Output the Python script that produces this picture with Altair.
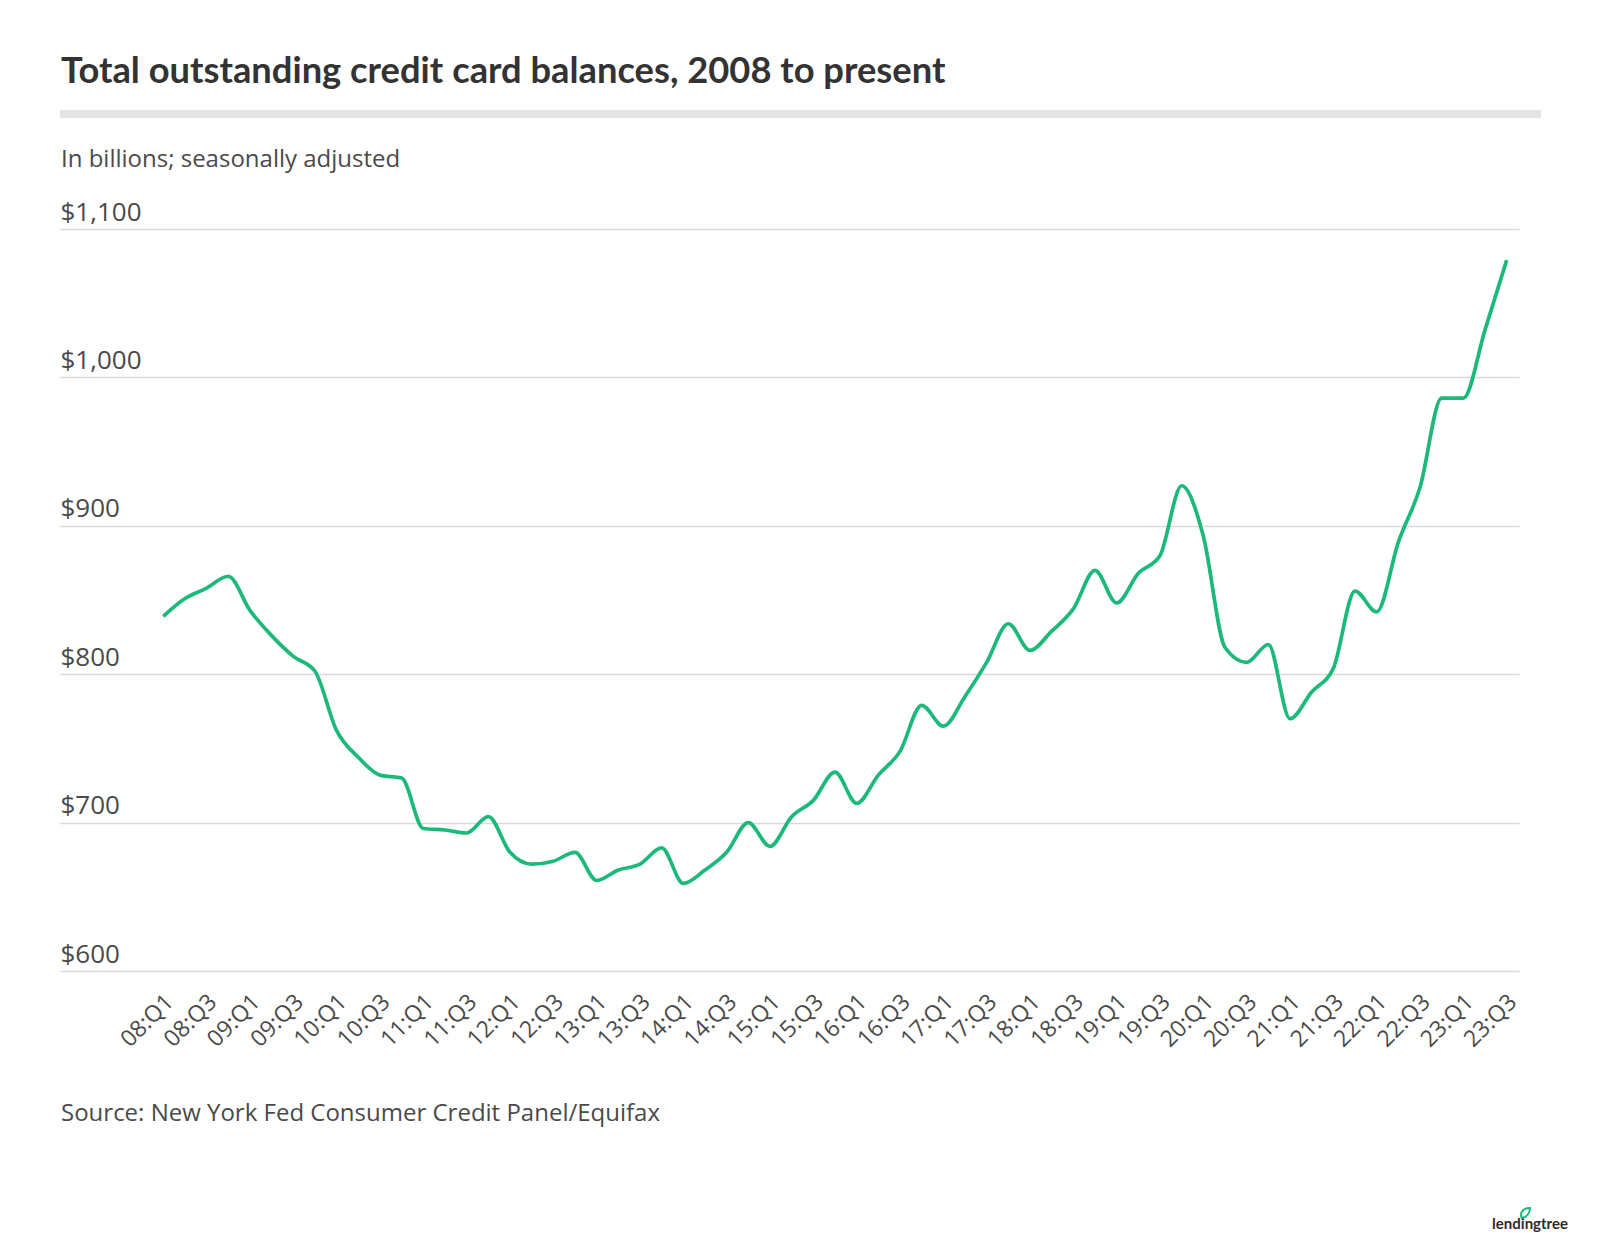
import json
import altair as alt
import pandas as pd

# ---- data ----
quarters = [f"{y:02d}:Q{q}" for y in range(8, 24) for q in range(1, 5)][:63]
balances = [
    839, 851, 858, 866,      # 2008
    843, 826, 812, 802,      # 2009
    762, 744, 732, 730,      # 2010
    696, 695, 693, 704,      # 2011
    680, 672, 674, 680,      # 2012
    661, 668, 672, 683,      # 2013
    659, 668, 680, 700,      # 2014
    684, 704, 715, 734,      # 2015
    713, 732, 748, 779,      # 2016
    765, 785, 808, 834,      # 2017
    816, 829, 844, 870,      # 2018
    848, 868, 880, 927,      # 2019
    893, 818, 808, 820,      # 2020
    770, 788, 804, 856,      # 2021
    842, 889, 926, 986,      # 2022
    986, 1032, 1079,         # 2023
]
tick_index = list(range(0, len(quarters), 2))
y_ticks = [600, 700, 800, 900, 1000, 1100]

title_text = "Total outstanding credit card balances, 2008 to present"
subtitle_text = "In billions; seasonally adjusted"
source_text = "Source: New York Fed Consumer Credit Panel/Equifax"
logo_text = "lendingtree"

df = pd.DataFrame({"idx": list(range(len(quarters))), "quarter": quarters, "balance": balances})

W, H = 1459, 742
GREEN = "#1cb97b"
TEXT = "#4a4a4a"

# first point sits 103.3px in from the left, last point 12.3px in from the right
step = (W - 103.3 - 12.3) / (len(quarters) - 1)
x_domain = [-103.3 / step, (len(quarters) - 1) + 12.3 / step]

line = alt.Chart(df).mark_line(
    interpolate="monotone", color=GREEN, strokeWidth=3.7
).encode(
    x=alt.X(
        "idx:Q",
        scale=alt.Scale(domain=x_domain, nice=False, zero=False),
        axis=alt.Axis(
            values=tick_index,
            labelExpr=json.dumps(quarters) + "[datum.value]",
            title=None,
            domain=False,
            ticks=False,
            tickSize=0,
            grid=False,
            labelAngle=-45,
            labelAlign="right",
            labelBaseline="middle",
            labelPadding=27,
            labelOffset=6,
            labelFont="Open Sans",
            labelFontSize=23,
            labelColor=TEXT,
            labelOverlap=False,
            labelFlush=False,
        ),
    ),
    y=alt.Y(
        "balance:Q",
        scale=alt.Scale(domain=[600, 1100], nice=False, zero=False),
        axis=alt.Axis(
            values=y_ticks,
            title=None,
            domain=False,
            ticks=False,
            tickSize=0,
            grid=True,
            gridColor="#d9d9d9",
            gridWidth=1.5,
            labelAlign="left",
            labelBaseline="alphabetic",
            labelPadding=0,
            labelOffset=-9,
            labelExpr="'$' + format(datum.value, ',')",
            labelFont="Open Sans",
            labelFontSize=26,
            labelColor=TEXT,
        ),
    ),
)

def text_layer(txt, x, y, size, font, weight="normal", color=TEXT, align="left"):
    return alt.Chart(pd.DataFrame({"t": [txt]})).mark_text(
        align=align, baseline="alphabetic", font=font, fontSize=size,
        fontWeight=weight, color=color
    ).encode(text="t:N", x=alt.value(x), y=alt.value(y))

title = text_layer(title_text, 1, -146, 36.3, "Lato", "bold", "#333333")
subtitle = text_layer(subtitle_text, 1, -62, 24, "Open Sans")
source = text_layer(source_text, 1, 892, 24, "Open Sans")
logo = text_layer(logo_text, 1508, 1000, 15, "Lato", "bold", "#2b2b2b", "right")

leaf_path = "M -0.7 0.9 C -1.1 -0.3 -0.2 -1 1 -1 C 1 0.2 0.2 1 -0.7 0.9 Z"
leaf = alt.Chart(pd.DataFrame({"a": [0]})).mark_point(
    shape=leaf_path, filled=False, color=GREEN, strokeWidth=2, size=100, opacity=1
).encode(x=alt.value(1465), y=alt.value(984))

bar = alt.Chart(pd.DataFrame({"a": [0]})).mark_rect(color="#e4e4e4").encode(
    x=alt.value(0), x2=alt.value(1481), y=alt.value(-119), y2=alt.value(-111)
)

chart = alt.layer(bar, line, title, subtitle, source, logo, leaf).properties(
    width=W,
    height=H,
    autosize=alt.AutoSizeParams(type="none"),
    padding={"left": 52, "top": 221, "right": 73, "bottom": 266},
    background="white",
).configure_view(stroke=None)

chart.save("out.html", embed_options={"renderer": "svg", "actions": False})
